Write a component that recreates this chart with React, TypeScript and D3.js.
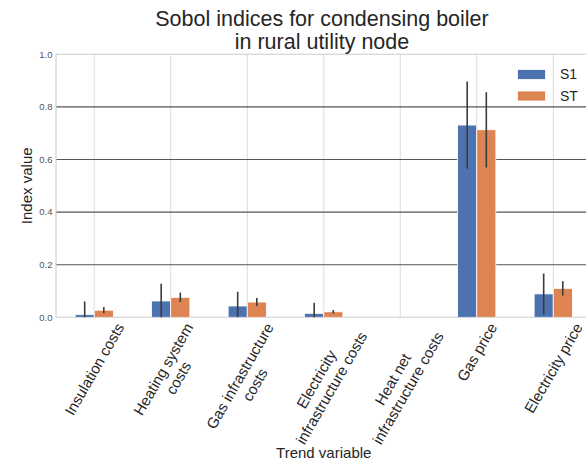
import React, { useEffect, useRef } from "react";
import * as d3 from "d3";

const categories = [
  "Insulation costs",
  "Heating system\ncosts",
  "Gas infrastructure\ncosts",
  "Electricity\ninfrastructure costs",
  "Heat net\ninfrastructure costs",
  "Gas price",
  "Electricity price",
];
const seriesNames = ["S1", "ST"];
const s1Values = [0.010, 0.062, 0.043, 0.015, 0.0, 0.731, 0.089];
const s1Errors = [0.050, 0.066, 0.054, 0.040, 0.0, 0.166, 0.078];
const stValues = [0.027, 0.076, 0.058, 0.021, 0.0, 0.713, 0.110];
const stErrors = [0.012, 0.018, 0.015, 0.007, 0.0, 0.143, 0.027];
const yTicks = [0.0, 0.2, 0.4, 0.6, 0.8, 1.0];
const colors = ["#4c72b0", "#dd8452"];

const W = 586;
const H = 467;
const FONT = "'Liberation Sans', Arial, 'DejaVu Sans', sans-serif";

export default function App() {
  const ref = useRef<SVGSVGElement | null>(null);

  useEffect(() => {
    const svg = d3.select(ref.current);
    svg.selectAll("*").remove();

    const left = 56;
    const step = 76.5;
    const right = left + step * categories.length;
    const top = 54.3;
    const bottom = 317.3;

    const x = d3.scaleBand<string>().domain(categories).range([left, right]).padding(0);
    const y = d3.scaleLinear().domain([0, 1]).range([bottom, top]);
    const barW = x.bandwidth() * 0.25;

    svg
      .append("defs")
      .append("clipPath")
      .attr("id", "plotclip")
      .append("rect")
      .attr("x", left)
      .attr("y", top)
      .attr("width", right - left)
      .attr("height", bottom - top);

    // vertical grid
    svg
      .append("g")
      .selectAll("line")
      .data(categories)
      .join("line")
      .attr("x1", (d) => x(d)! + x.bandwidth() / 2)
      .attr("x2", (d) => x(d)! + x.bandwidth() / 2)
      .attr("y1", top)
      .attr("y2", bottom)
      .attr("stroke", "#dcdcdc")
      .attr("stroke-width", 1);

    // horizontal grid (interior)
    svg
      .append("g")
      .selectAll("line")
      .data(yTicks.filter((t) => t > 0 && t < 1))
      .join("line")
      .attr("x1", left)
      .attr("x2", right)
      .attr("y1", (d) => y(d))
      .attr("y2", (d) => y(d))
      .attr("stroke", "#555555")
      .attr("stroke-width", 1.1);

    // frame
    const frame = svg.append("g").attr("stroke", "#cccccc").attr("stroke-width", 1.1).attr("fill", "none");
    frame.append("line").attr("x1", left).attr("x2", right).attr("y1", top).attr("y2", top);
    frame.append("line").attr("x1", left).attr("x2", right).attr("y1", bottom).attr("y2", bottom);
    frame.append("line").attr("x1", left).attr("x2", left).attr("y1", top).attr("y2", bottom);
    frame.append("line").attr("x1", right).attr("x2", right).attr("y1", top).attr("y2", bottom);

    const series = [
      { vals: s1Values, errs: s1Errors, offset: -1 },
      { vals: stValues, errs: stErrors, offset: 0 },
    ];

    const plot = svg.append("g").attr("clip-path", "url(#plotclip)");
    series.forEach((s, si) => {
      const g = plot.append("g");
      categories.forEach((c, i) => {
        const v = s.vals[i];
        if (v <= 0) return;
        const cx = x(c)! + x.bandwidth() / 2;
        g.append("rect")
          .attr("x", cx + s.offset * barW)
          .attr("y", y(v))
          .attr("width", barW)
          .attr("height", y(0) - y(v))
          .attr("fill", colors[si])
          .attr("stroke", "#ffffff")
          .attr("stroke-width", 0.8);
      });
    });
    series.forEach((s) => {
      categories.forEach((c, i) => {
        const v = s.vals[i];
        const e = s.errs[i];
        if (e <= 0) return;
        const cx = x(c)! + x.bandwidth() / 2 + s.offset * barW + barW / 2;
        plot
          .append("line")
          .attr("x1", cx)
          .attr("x2", cx)
          .attr("y1", y(v - e))
          .attr("y2", y(v + e))
          .attr("stroke", "#3b3b3b")
          .attr("stroke-width", 1.6);
      });
    });

    // y tick labels
    svg
      .append("g")
      .selectAll("text")
      .data(yTicks)
      .join("text")
      .attr("x", 52.5)
      .attr("y", (d) => y(d))
      .attr("dy", "0.35em")
      .attr("text-anchor", "end")
      .attr("font-family", FONT)
      .attr("font-size", 9.5)
      .attr("fill", "#555555")
      .text((d) => d3.format(".1f")(d));

    // x tick labels rotated
    const xl = svg.append("g");
    categories.forEach((c) => {
      const cx = x(c)! + x.bandwidth() / 2;
      const outer = xl.append("g").attr("transform", `translate(${cx},${320})`);
      const inner = outer.append("g");
      const lines = c.split("\n");
      const t = inner
        .append("text")
        .attr("transform", "rotate(-60)")
        .attr("text-anchor", "middle")
        .attr("font-family", FONT)
        .attr("font-size", 15)
        .attr("fill", "#262626");
      lines.forEach((ln, li) => {
        t.append("tspan")
          .attr("x", 0)
          .attr("y", (li - (lines.length - 1) / 2) * 17.5)
          .text(ln);
      });
      const bb = (inner.node() as SVGGElement).getBBox();
      inner.attr("transform", `translate(${-(bb.x + bb.width / 2)},${-bb.y})`);
    });

    // axis labels
    svg
      .append("text")
      .attr("x", (left + right) / 2)
      .attr("y", 458)
      .attr("text-anchor", "middle")
      .attr("font-family", FONT)
      .attr("font-size", 15)
      .attr("fill", "#262626")
      .text("Trend variable");

    svg
      .append("text")
      .attr("transform", `translate(32,${(top + bottom) / 2}) rotate(-90)`)
      .attr("text-anchor", "middle")
      .attr("font-family", FONT)
      .attr("font-size", 15)
      .attr("fill", "#262626")
      .text("Index value");

    // title
    const title = svg
      .append("text")
      .attr("text-anchor", "middle")
      .attr("font-family", FONT)
      .attr("font-size", 21.5)
      .attr("fill", "#262626");
    title.append("tspan").attr("x", 322).attr("y", 26).text("Sobol indices for condensing boiler");
    title.append("tspan").attr("x", 322).attr("y", 48.5).text("in rural utility node");

    // legend
    const lg = svg.append("g");
    seriesNames.forEach((n, i) => {
      lg.append("rect")
        .attr("x", 517.5)
        .attr("y", 69.5 + i * 21.5)
        .attr("width", 28)
        .attr("height", 10)
        .attr("fill", colors[i])
        .attr("stroke", "#ffffff")
        .attr("stroke-width", 0.8);
      lg.append("text")
        .attr("x", 560)
        .attr("y", 79 + i * 21.5)
        .attr("font-family", FONT)
        .attr("font-size", 14)
        .attr("fill", "#262626")
        .text(n);
    });
  }, []);

  return (
    <svg
      ref={ref}
      width={W}
      height={H}
      style={{ position: "absolute", left: 0, top: 0, background: "#ffffff" }}
    />
  );
}
